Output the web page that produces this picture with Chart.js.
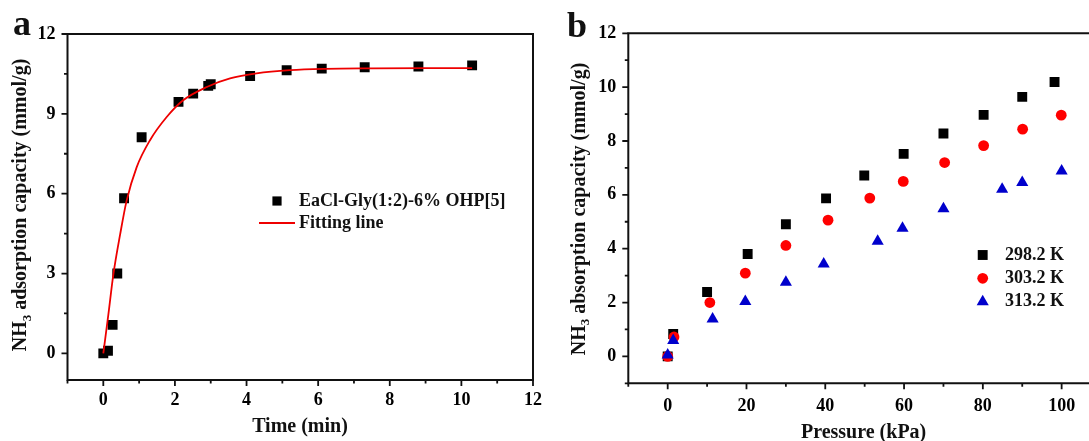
<!DOCTYPE html>
<html>
<head>
<meta charset="utf-8">
<script src="https://cdn.jsdelivr.net/npm/chart.js@4.4.1/dist/chart.umd.min.js"></script>
<style>
  html, body { margin: 0; padding: 0; background: #fff; overflow: hidden; }
  #wrap { position: relative; width: 1089px; height: 441px; overflow: hidden; }
  .panel { position: absolute; top: 0; height: 441px; }
  #pa { left: 0; width: 545px; }
  #pb { left: 545px; width: 552px; }
</style>
</head>
<body>
<div id="wrap">
  <div class="panel" id="pa"><canvas id="chartA"></canvas></div>
  <div class="panel" id="pb"><canvas id="chartB"></canvas></div>
</div>
<script>
// Panel a: uptake vs time
const timeMin   = [0, 0.13, 0.26, 0.39, 0.58, 1.07, 2.1, 2.51, 2.93, 3.0, 4.1, 5.12, 6.1, 7.3, 8.8, 10.3];
const uptakeA   = [0, 0.1, 1.07, 3.0, 5.83, 8.12, 9.45, 9.76, 10.05, 10.11, 10.42, 10.64, 10.7, 10.75, 10.78, 10.82];
const fitTime   = [0, 0.14, 0.28, 0.47, 0.65, 0.93, 1.3, 1.77, 2.23, 2.89, 3.54, 4.28, 5.22, 6.2, 7.5, 9.0, 10.3];
const fitUptake = [0, 1.45, 2.96, 4.47, 5.73, 6.99, 8.0, 8.88, 9.51, 10.01, 10.33, 10.52, 10.64, 10.69, 10.71, 10.72, 10.72];
const xTicksA = [0, 2, 4, 6, 8, 10, 12];
const xMinorA = [-1, 1, 3, 5, 7, 9, 11];
const yTicksA = [0, 3, 6, 9, 12];
const yMinorA = [1.5, 4.5, 7.5, 10.5];

// Panel b: isotherms
const pressure298 = [0, 1.4, 10, 20.3, 30, 40.2, 49.9, 59.9, 70, 80.2, 90, 98.2];
const uptake298   = [0, 0.83, 2.39, 3.8, 4.91, 5.87, 6.72, 7.52, 8.28, 8.97, 9.64, 10.19];
const pressure303 = [0, 1.6, 10.7, 19.7, 30, 40.7, 51.3, 59.8, 70.3, 80.2, 90.1, 99.9];
const uptake303   = [0, 0.72, 2.0, 3.09, 4.12, 5.06, 5.88, 6.5, 7.2, 7.83, 8.44, 8.96];
const pressure313 = [0, 1.4, 11.4, 19.7, 30, 39.6, 53.3, 59.6, 70, 84.9, 90, 100];
const uptake313   = [0.05, 0.59, 1.39, 2.04, 2.75, 3.43, 4.28, 4.76, 5.48, 6.21, 6.46, 6.89];
const xTicksB = [0, 20, 40, 60, 80, 100];
const xMinorB = [-10, 10, 30, 50, 70, 90];
const yTicksB = [0, 2, 4, 6, 8, 10, 12];
const yMinorB = [-1, 1, 3, 5, 7, 9, 11];

const serif = '"Liberation Serif", "Times New Roman", serif';
const fnt = (s) => 'bold ' + s + 'px ' + serif;
const tickFont = { family: serif, size: 18, weight: 'bold' };

const toXY = (xs, ys) => xs.map((x, i) => ({ x: x, y: ys[i] }));

function xScale(min, max, ticks, height, pad) {
  return {
    type: 'linear', min: min, max: max,
    grid: { display: false, drawTicks: false }, border: { display: false },
    afterBuildTicks: (s) => { s.ticks = ticks.map(v => ({ value: v })); },
    afterFit: (s) => { s.height = height; s.paddingLeft = 0; s.paddingRight = 0; },
    ticks: { color: '#000', font: tickFont, padding: pad, maxRotation: 0, autoSkip: false }
  };
}
function yScale(min, max, ticks, width) {
  return {
    type: 'linear', min: min, max: max,
    grid: { display: false, drawTicks: false }, border: { display: false },
    afterBuildTicks: (s) => { s.ticks = ticks.map(v => ({ value: v })); },
    afterFit: (s) => { s.width = width; s.paddingTop = 0; s.paddingBottom = 0; },
    ticks: { color: '#000', font: tickFont, padding: 12, autoSkip: false }
  };
}

function drawYTitle(ctx, x, y, rest, size) {
  ctx.save();
  ctx.translate(x, y);
  ctx.rotate(-Math.PI / 2);
  ctx.fillStyle = '#111';
  ctx.textBaseline = 'middle';
  ctx.textAlign = 'left';
  ctx.font = fnt(size);
  const w1 = ctx.measureText('NH').width;
  const w3 = ctx.measureText(rest).width;
  ctx.font = fnt(size * 0.65);
  const w2 = ctx.measureText('3').width;
  let cx = -(w1 + w2 + w3) / 2;
  ctx.font = fnt(size);
  ctx.fillText('NH', cx, 0);
  cx += w1;
  ctx.font = fnt(size * 0.65);
  ctx.fillText('3', cx, size * 0.32);
  cx += w2;
  ctx.font = fnt(size);
  ctx.fillText(rest, cx, 0);
  ctx.restore();
}

function text(ctx, s, x, y, size, align, base) {
  ctx.font = fnt(size);
  ctx.fillStyle = '#111';
  ctx.textAlign = align || 'center';
  ctx.textBaseline = base || 'middle';
  ctx.fillText(s, x, y);
}

// frame, tick marks, titles and legend
const decor = {
  id: 'decor',
  afterDatasetsDraw(chart, args, o) {
    const ctx = chart.ctx;
    const a = chart.chartArea;
    const xs = chart.scales.x, ys = chart.scales.y;
    ctx.save();
    ctx.strokeStyle = '#111';
    ctx.lineWidth = 2;
    ctx.beginPath();
    ctx.moveTo(a.left, a.top); ctx.lineTo(a.right, a.top);
    ctx.moveTo(a.left, a.top - 1); ctx.lineTo(a.left, a.bottom + 1);
    ctx.moveTo(a.left - 1, a.bottom); ctx.lineTo(a.right, a.bottom);
    if (o.rightBorder) { ctx.moveTo(a.right, a.top - 1); ctx.lineTo(a.right, a.bottom + 1); }
    ctx.stroke();
    ctx.lineWidth = 1.8;
    ctx.beginPath();
    o.xMajor.forEach(v => { const p = xs.getPixelForValue(v); ctx.moveTo(p, a.bottom); ctx.lineTo(p, a.bottom + 6); });
    o.xMinor.forEach(v => { const p = xs.getPixelForValue(v); ctx.moveTo(p, a.bottom); ctx.lineTo(p, a.bottom + 3.5); });
    o.yMajor.forEach(v => { const p = ys.getPixelForValue(v); ctx.moveTo(a.left, p); ctx.lineTo(a.left - 6, p); });
    o.yMinor.forEach(v => { const p = ys.getPixelForValue(v); ctx.moveTo(a.left, p); ctx.lineTo(a.left - 3.5, p); });
    ctx.stroke();

    text(ctx, o.letter, o.letterPos[0], o.letterPos[1], 36, 'center', 'alphabetic');
    text(ctx, o.xTitle, o.xTitlePos[0], o.xTitlePos[1], 20);
    drawYTitle(ctx, o.yTitlePos[0], o.yTitlePos[1], o.yTitle, 20);

    o.legend.forEach(item => {
      const ds = chart.data.datasets[item.ds];
      if (item.line) {
        ctx.strokeStyle = ds.borderColor;
        ctx.lineWidth = ds.borderWidth;
        ctx.beginPath();
        ctx.moveTo(item.x - 18, item.y); ctx.lineTo(item.x + 18, item.y);
        ctx.stroke();
      } else {
        ctx.fillStyle = ds.pointBackgroundColor;
        ctx.strokeStyle = ds.pointBackgroundColor;
        Chart.helpers.drawPoint(ctx, { pointStyle: ds.pointStyle, radius: item.r || ds.pointRadius, rotation: 0, borderWidth: 0 }, item.x, item.y);
      }
      text(ctx, ds.label, item.tx, item.y, 18, 'left');
    });
    ctx.restore();
  }
};

new Chart(document.getElementById('chartA'), {
  type: 'scatter',
  data: {
    datasets: [
      {
        label: 'EaCl-Gly(1:2)-6% OHP[5]',
        data: toXY(timeMin, uptakeA),
        pointStyle: 'rect', pointRadius: 7, pointBorderWidth: 0,
        pointBackgroundColor: '#000', order: 1
      },
      {
        label: 'Fitting line',
        data: toXY(fitTime, fitUptake),
        showLine: true, pointRadius: 0, borderColor: '#ee0000', borderWidth: 1.8,
        cubicInterpolationMode: 'monotone', order: 0
      }
    ]
  },
  options: {
    responsive: true, maintainAspectRatio: false, animation: false, devicePixelRatio: 1,
    layout: { padding: { left: 0, top: 34, right: 12, bottom: 0 } },
    plugins: {
      legend: { display: false }, tooltip: { enabled: false },
      decor: {
        rightBorder: true,
        xMajor: xTicksA, xMinor: xMinorA, yMajor: yTicksA, yMinor: yMinorA,
        letter: 'a', letterPos: [22, 35],
        xTitle: 'Time (min)', xTitlePos: [300, 427],
        yTitle: ' adsorption capacity (mmol/g)', yTitlePos: [21, 205],
        legend: [
          { ds: 0, x: 277, y: 201, tx: 299, r: 6.5 },
          { ds: 1, x: 277, y: 223, tx: 299, line: true }
        ]
      }
    },
    scales: {
      x: xScale(-1, 12, xTicksA, 61, 10),
      y: yScale(-1, 12, yTicksA, 67.5)
    }
  },
  plugins: [decor]
});

new Chart(document.getElementById('chartB'), {
  type: 'scatter',
  data: {
    datasets: [
      { label: '298.2 K', data: toXY(pressure298, uptake298), pointStyle: 'rect', pointRadius: 7,
        pointBorderWidth: 0, pointBackgroundColor: '#000', order: 2 },
      { label: '303.2 K', data: toXY(pressure303, uptake303), pointStyle: 'circle', pointRadius: 5.4,
        pointBorderWidth: 0, pointBackgroundColor: '#ff0000', order: 1 },
      { label: '313.2 K', data: toXY(pressure313, uptake313), pointStyle: 'triangle', pointRadius: 7,
        pointBorderWidth: 0, pointBackgroundColor: '#0000cc', order: 0 }
    ]
  },
  options: {
    responsive: true, maintainAspectRatio: false, animation: false, devicePixelRatio: 1,
    layout: { padding: { left: 0, top: 33.3, right: 0, bottom: 0 } },
    plugins: {
      legend: { display: false }, tooltip: { enabled: false },
      decor: {
        rightBorder: false,
        xMajor: xTicksB, xMinor: xMinorB, yMajor: yTicksB, yMinor: yMinorB,
        letter: 'b', letterPos: [32, 37],
        xTitle: 'Pressure (kPa)', xTitlePos: [318.6, 433],
        yTitle: ' absorption capacity (mmol/g)', yTitlePos: [34.6, 209],
        legend: [
          { ds: 0, x: 437.7, y: 255, tx: 460 },
          { ds: 1, x: 437.7, y: 278.3, tx: 460 },
          { ds: 2, x: 437.7, y: 301.7, tx: 460 }
        ]
      }
    },
    scales: {
      x: xScale(-10, 107.2, xTicksB, 57.7, 12),
      y: yScale(-1, 12, yTicksB, 83.3)
    }
  },
  plugins: [decor]
});
</script>
</body>
</html>
